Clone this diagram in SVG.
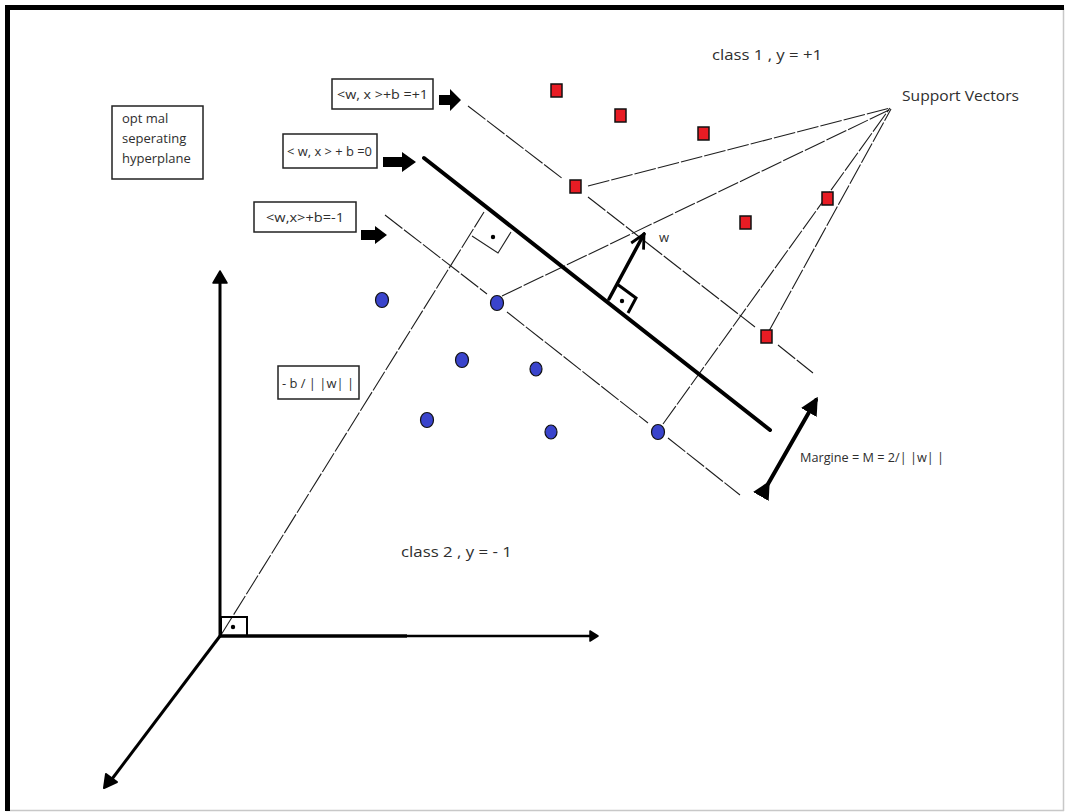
<svg xmlns="http://www.w3.org/2000/svg" width="1065" height="812" viewBox="0 0 1065 812">
  <style>
    .txt { font-family: "Open Sans", "Liberation Sans", sans-serif; fill: #2e2e2e; }
    .lbl { font-size: 13px; }
    .box { fill: #fff; stroke: #222; stroke-width: 1.5; }
    .thin { stroke: #1e1e1e; stroke-width: 1.1; fill: none; stroke-dasharray: 22 2; }
    .thick { stroke: #000; fill: none; stroke-linecap: round; }
    .red { fill: #e81c24; stroke: #111; stroke-width: 1.5; }
    .blue { fill: #3a44cc; stroke: #111; stroke-width: 1.2; }
  </style>
  <defs>
    <marker id="tri" viewBox="0 0 10 10" refX="8" refY="5" markerWidth="4.5" markerHeight="4.5" orient="auto">
      <path d="M0,0 L10,5 L0,10 Z" fill="#000"/>
    </marker>
    <marker id="vee" viewBox="0 0 10 10" refX="9" refY="5" markerWidth="5" markerHeight="5" orient="auto">
      <path d="M1,1 L9,5 L1,9" fill="none" stroke="#000" stroke-width="1.6"/>
    </marker>
  </defs>

  <!-- page frame -->
  <rect x="0" y="0" width="1065" height="812" fill="#fff"/>
  <line x1="1063.5" y1="8" x2="1063.5" y2="811" stroke="#c8c8c8" stroke-width="1.5"/>
  <line x1="6" y1="810.5" x2="1064" y2="810.5" stroke="#c8c8c8" stroke-width="1.5"/>
  <rect x="5" y="5" width="1059" height="5" fill="#000"/>
  <rect x="5" y="5" width="5" height="806" fill="#000"/>

  <!-- connectors -->
  <g id="connectors">
    <!-- margin lines -->
    <polyline class="thin" points="468,106 563,179"/>
    <polyline class="thin" points="588,197 755,327"/>
    <polyline class="thin" points="778,345 813,373"/>
    <polyline class="thin" points="385,215 487,294"/>
    <polyline class="thin" points="507,312 648,423"/>
    <polyline class="thin" points="668,438 740,495"/>
    <!-- support vector pointers -->
    <line class="thin" x1="588" y1="186" x2="890" y2="108"/>
    <line class="thin" x1="502" y1="296" x2="889" y2="110"/>
    <line class="thin" x1="663" y1="424" x2="890" y2="108"/>
    <line class="thin" x1="769" y1="331" x2="891" y2="109"/>
    <!-- perpendicular from origin to hyperplane -->
    <line class="thin" x1="221" y1="635" x2="484" y2="212"/>
    <polyline points="472,236 498,253 511,232" fill="none" stroke="#222" stroke-width="1.1"/>
    <circle cx="493" cy="237" r="2.2" fill="#000"/>
    <!-- hyperplane -->
    <line class="thick" x1="424" y1="158" x2="770" y2="430" stroke-width="4"/>
    <!-- normal vector w -->
    <line class="thick" x1="609" y1="299" x2="644" y2="234" stroke-width="3.5" marker-end="url(#vee)"/>
    <polyline points="617,284 636,298 628,313" fill="none" stroke="#000" stroke-width="3"/>
    <circle cx="622" cy="301" r="2.2" fill="#000"/>
    <!-- margin width -->
    <line class="thick" x1="768" y1="484" x2="816" y2="400" stroke-width="4" marker-start="url(#tri)" marker-end="url(#tri)"/>
    <!-- axes -->
    <line class="thick" x1="220" y1="636" x2="220" y2="282" stroke-width="3" stroke-linecap="butt"/>
    <path d="M213,283 L220,271 L227,283 Z" fill="#000" stroke="#000" stroke-width="1.5" stroke-linejoin="round"/>
    <line x1="220" y1="636" x2="407" y2="636" stroke="#000" stroke-width="3.5"/>
    <line x1="407" y1="636" x2="592" y2="636" stroke="#000" stroke-width="2.5"/>
    <path d="M590,631 L598,636 L590,641 Z" fill="#000" stroke="#000" stroke-width="1.5" stroke-linejoin="round"/>
    <line x1="220" y1="636" x2="112" y2="779" stroke="#000" stroke-width="3"/>
    <path d="M104,788 L106,774 L117,782 Z" fill="#000" stroke="#000" stroke-width="2" stroke-linejoin="round"/>
    <rect x="221" y="617" width="26" height="19" fill="none" stroke="#000" stroke-width="2"/>
    <circle cx="233" cy="627" r="2.2" fill="#000"/>
    <!-- block arrows to the lines -->
    <path d="M439,95 H450 V89 L461,100 L450,111 V105 H439 Z" fill="#000"/>
    <path d="M383,157 H402 V152 L416,162 L402,172 V167 H383 Z" fill="#000"/>
    <path d="M361,230 H375 V226 L387,235 L375,244 V240 H361 Z" fill="#000"/>
  </g>

  <!-- class +1 points -->
  <g id="class1-points">
    <rect class="red" x="551" y="84" width="11" height="13"/>
    <rect class="red" x="615" y="109" width="11" height="13"/>
    <rect class="red" x="698" y="127" width="11" height="13"/>
    <rect class="red" x="570" y="180" width="11" height="13"/>
    <rect class="red" x="740" y="216" width="11" height="13"/>
    <rect class="red" x="822" y="192" width="11" height="13"/>
    <rect class="red" x="761" y="330" width="11" height="13"/>
  </g>

  <!-- class -1 points -->
  <g id="class2-points">
    <ellipse class="blue" cx="382" cy="300" rx="6.5" ry="7.5"/>
    <ellipse class="blue" cx="497" cy="303" rx="6.5" ry="7.5"/>
    <ellipse class="blue" cx="462" cy="360" rx="6.5" ry="7.5"/>
    <ellipse class="blue" cx="536" cy="369" rx="6" ry="7"/>
    <ellipse class="blue" cx="427" cy="420" rx="6.5" ry="7.5"/>
    <ellipse class="blue" cx="551" cy="432" rx="6" ry="7"/>
    <ellipse class="blue" cx="658" cy="432" rx="6.5" ry="7.5"/>
  </g>

  <g id="hyperplane-caption">
    <rect class="box" x="112" y="106" width="91" height="73"/>
    <text class="txt lbl" x="122" y="123">opt mal</text>
    <text class="txt lbl" x="122" y="143">seperating</text>
    <text class="txt lbl" x="122" y="163">hyperplane</text>
  </g>

  <g id="label-plus1">
    <rect class="box" x="332" y="79" width="101" height="30"/>
    <text class="txt lbl" x="337" y="99" textLength="91" lengthAdjust="spacingAndGlyphs">&lt;w, x &gt;+b =+1</text>
  </g>

  <g id="label-zero">
    <rect class="box" x="283" y="134" width="94" height="34"/>
    <text class="txt lbl" x="287" y="156" textLength="85" lengthAdjust="spacingAndGlyphs">&lt; w, x &gt; + b =0</text>
  </g>

  <g id="label-minus1">
    <rect class="box" x="254" y="202" width="102" height="30"/>
    <text class="txt lbl" x="266" y="222" textLength="78" lengthAdjust="spacingAndGlyphs">&lt;w,x&gt;+b=-1</text>
  </g>

  <g id="label-offset">
    <rect class="box" x="278" y="366" width="81" height="33"/>
    <text class="txt lbl" x="282" y="388" textLength="72" lengthAdjust="spacingAndGlyphs">- b / | |w| |</text>
  </g>

  <g id="label-w">
    <text class="txt lbl" x="659" y="242">w</text>
  </g>

  <g id="label-margin">
    <text class="txt lbl" x="800" y="462" textLength="144" lengthAdjust="spacingAndGlyphs">Margine = M = 2/| |w| |</text>
  </g>

  <g id="label-support">
    <text class="txt" x="902" y="101" font-size="15" textLength="117" lengthAdjust="spacingAndGlyphs">Support Vectors</text>
  </g>

  <g id="label-class1">
    <text class="txt" x="712" y="60" font-size="14" textLength="110" lengthAdjust="spacingAndGlyphs">class 1 , y = +1</text>
  </g>

  <g id="label-class2">
    <text class="txt" x="401" y="557" font-size="14" textLength="111" lengthAdjust="spacingAndGlyphs">class 2 , y = - 1</text>
  </g>
</svg>
